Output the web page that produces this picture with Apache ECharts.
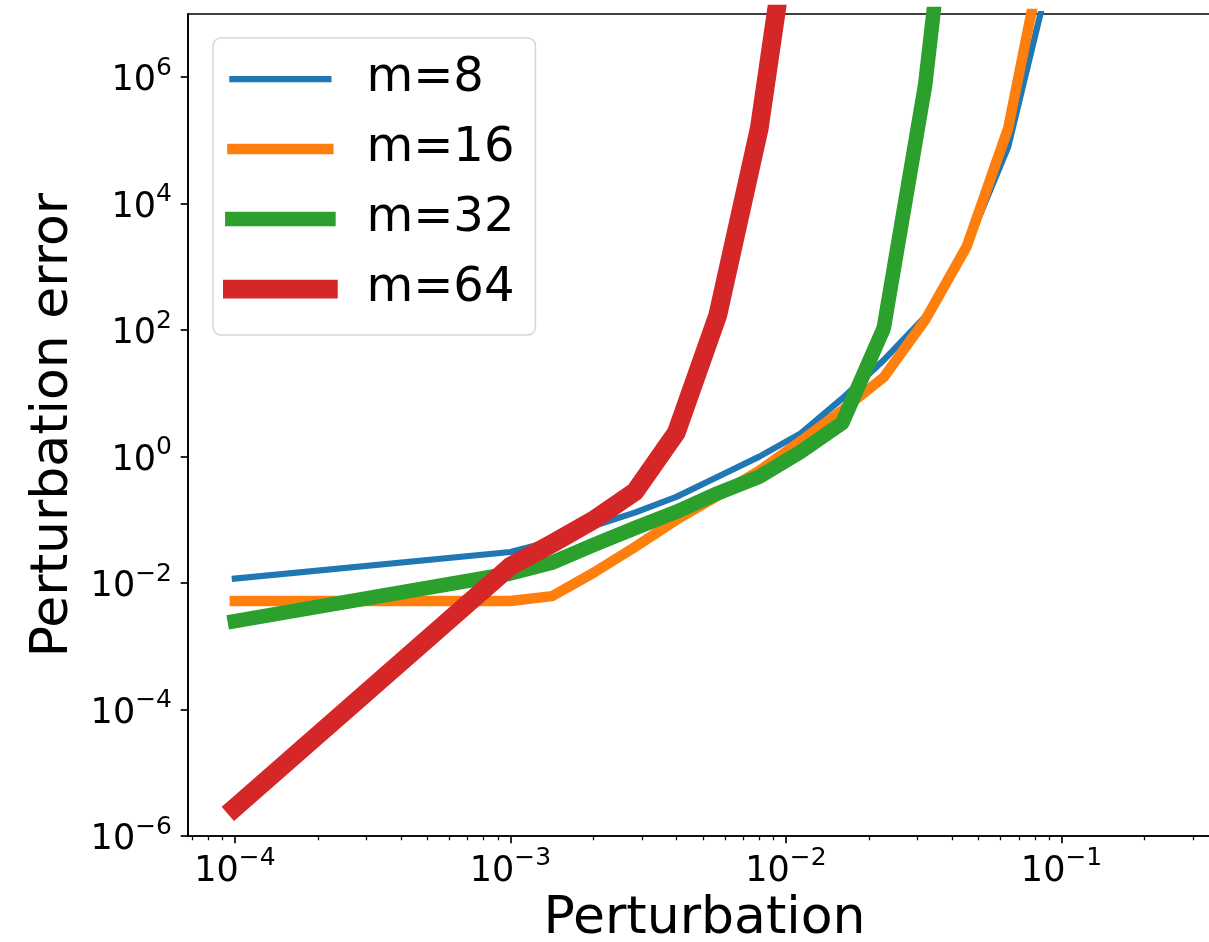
<!DOCTYPE html>
<html>
<head>
<meta charset="utf-8">
<script src="https://cdn.jsdelivr.net/npm/echarts@6/dist/echarts.min.js"></script>
<style>
  html, body { margin: 0; padding: 0; background: #fff; }
  #main { width: 1209px; height: 942px; }
</style>
</head>
<body>
<div id="main"></div>
<script>
// perturbation sizes (x) and the error for each m (y)
var perturbation = [1e-4, 1e-3, 1.414e-3, 2e-3, 2.828e-3, 4e-3, 5.657e-3, 8e-3, 1.131e-2,
  1.6e-2, 2.263e-2, 3.2e-2, 4.525e-2, 6.4e-2, 9.051e-2];
var errM8  = [0.0118, 0.031, 0.046, 0.08, 0.13, 0.231, 0.48, 1.0, 2.33, 8.3, 33.6, 163, 2090, 7.9e4, 4e7];
var errM16 = [0.0052, 0.0052, 0.0062, 0.0145, 0.037, 0.1, 0.24, 0.6, 1.75, 5.4, 18, 145, 2090, 1.56e5, 2.9e8];
var errM32 = [0.0025, 0.0142, 0.021, 0.04, 0.074, 0.134, 0.264, 0.48, 1.19, 3.4, 107, 7.6e5, 4e11];
var errM64 = [2.8e-6, 0.0185, 0.042, 0.099, 0.277, 2.4, 173, 1.56e5, 5e9];

var seriesNames = ['m=8', 'm=16', 'm=32', 'm=64'];
var seriesValues = [errM8, errM16, errM32, errM64];
var colors = ['#1f77b4', '#ff7f0e', '#2ca02c', '#d62728'];
var lineWidths = [6.25, 10.4, 14.6, 18.75];

var xTicks = [1e-4, 1e-3, 1e-2, 1e-1];
var yTicks = [1e-6, 1e-4, 1e-2, 1, 1e2, 1e4, 1e6];
var minorMantissa = [2, 3, 4, 5, 6, 7, 8, 9];
var minorDecades = [1e-5, 1e-4, 1e-3, 1e-2, 1e-1];

var xMin = Math.pow(10, -4.170), xMax = Math.pow(10, -0.4214);
var yMin = 1e-6, yMax = 1e7;

var xMinorTicks = [];
minorDecades.forEach(function (d) {
  minorMantissa.forEach(function (m) {
    var v = m * d;
    if (v > xMin && v < xMax) xMinorTicks.push(v);
  });
});

var FONT = 'DejaVu Sans';

function powLabel(v) {
  var e = Math.round(Math.log10(v));
  return '{b|10}{s|' + (e < 0 ? '\u2212' + (-e) : e) + '}';
}
var powRich = {
  b: { fontSize: 35, fontFamily: FONT, color: '#000', lineHeight: 43, verticalAlign: 'bottom' },
  s: { fontSize: 25, fontFamily: FONT, color: '#000', lineHeight: 20, verticalAlign: 'top' }
};

var chartDom = document.getElementById('main');
var myChart = echarts.init(chartDom);

var option = {
  animation: false,
  grid: {
    left: 188, top: 14, right: -12, bottom: 106,
    show: true, borderColor: '#000', borderWidth: 1.7,
    outerBoundsMode: 'none'
  },
  legend: {
    data: seriesNames.map(function (n, i) {
      return { name: n, lineStyle: { width: lineWidths[i], cap: 'square' } };
    }),
    orient: 'vertical',
    left: 213, top: 38,
    itemWidth: 96, itemHeight: 20, itemGap: 22,
    padding: [17, 21, 22, 10],
    borderColor: '#d6d6d6', borderWidth: 1.5, borderRadius: 8,
    backgroundColor: 'rgba(255,255,255,0.8)',
    selectedMode: false,
    itemStyle: { opacity: 0 },
    textStyle: { fontSize: 48, fontFamily: FONT, color: '#000', padding: [0, 0, 0, 33] }
  },
  xAxis: [
    {
      type: 'log', min: xMin, max: xMax,
      name: 'Perturbation', nameLocation: 'middle', nameGap: 54,
      nameTextStyle: { fontSize: 52, fontFamily: FONT, color: '#000' },
      axisLine: { lineStyle: { color: '#000', width: 1.7 } },
      axisTick: { customValues: xTicks, length: 7.3, lineStyle: { color: '#000', width: 1.7 } },
      axisLabel: { customValues: xTicks, formatter: powLabel, rich: powRich, margin: 10 },
      splitLine: { show: false }
    },
    {
      type: 'log', min: xMin, max: xMax, position: 'bottom',
      axisLine: { show: false },
      axisTick: { customValues: xMinorTicks, length: 4.2, lineStyle: { color: '#000', width: 1.25 } },
      axisLabel: { show: false },
      splitLine: { show: false }
    }
  ],
  yAxis: {
    type: 'log', min: yMin, max: yMax,
    name: 'Perturbation error', nameLocation: 'middle', nameGap: 106,
    nameTextStyle: { fontSize: 52, fontFamily: FONT, color: '#000' },
    axisLine: { lineStyle: { color: '#000', width: 1.7 } },
    axisTick: { customValues: yTicks, length: 7.3, lineStyle: { color: '#000', width: 1.7 } },
    axisLabel: { customValues: yTicks, formatter: powLabel, rich: powRich, margin: 16 },
    splitLine: { show: false }
  },
  series: seriesNames.map(function (n, i) {
    return {
      name: n,
      type: 'line',
      xAxisIndex: 0,
      data: seriesValues[i].map(function (v, j) { return [perturbation[j], v]; }),
      showSymbol: false,
      symbol: 'none',
      color: colors[i],
      lineStyle: { width: lineWidths[i], color: colors[i], cap: 'square', join: 'round' }
    };
  })
};

option && myChart.setOption(option);
</script>
</body>
</html>
